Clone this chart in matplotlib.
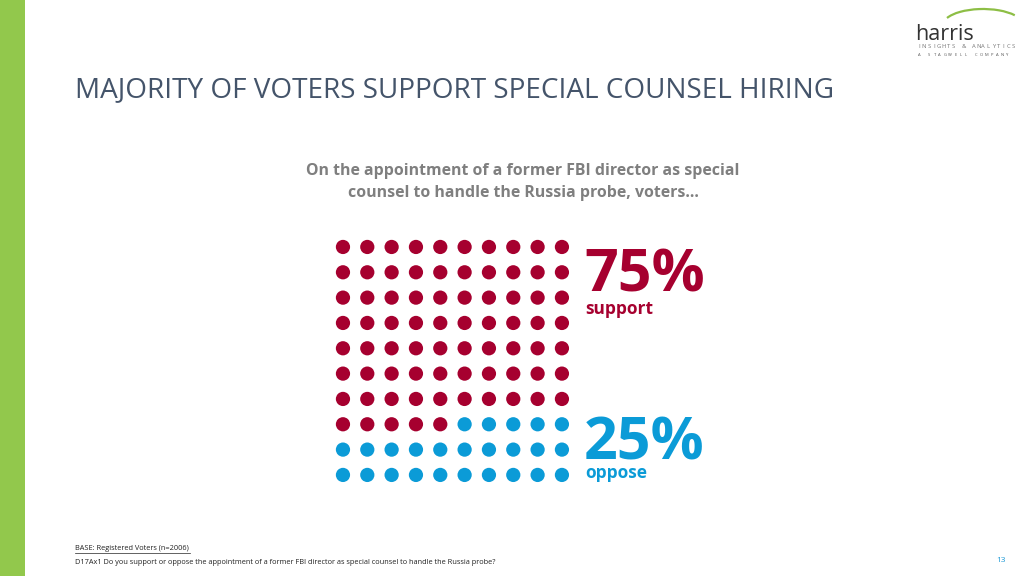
import numpy as np
import matplotlib.pyplot as plt
from matplotlib.patches import Rectangle, Arc

# data
support_pct = 75
oppose_pct = 25
labels = ["support", "oppose"]
title = "MAJORITY OF VOTERS SUPPORT SPECIAL COUNSEL HIRING"
subtitle = "On the appointment of a former FBI director as special\ncounsel to handle the Russia probe, voters\u2026"
base_note = "BASE: Registered Voters (n=2006)"
question = ("D17Ax1 Do you support or oppose the appointment of a former FBI director "
            "as special counsel to handle the Russia probe?")
page_no = "13"
logo_name = "harris"
logo_line1 = "INSIGHTS & ANALYTICS"
logo_line2 = "A STAGWELL COMPANY"

red = "#A6002F"
blue = "#0B9BD7"
green = "#92C84C"

fig = plt.figure(figsize=(10.24, 5.76), dpi=100)
fig.patch.set_facecolor("white")

# background axes in pixel coordinates
bg = fig.add_axes([0, 0, 1, 1])
bg.set_xlim(0, 1024)
bg.set_ylim(576, 0)
bg.axis("off")

bg.add_patch(Rectangle((0, 0), 25, 576, color=green, lw=0))

bg.text(75, 97, title, fontsize=20.1, family="Open Sans", color="#44546A",
        va="baseline", ha="left")
bg.text(523, 182, subtitle, fontsize=11.4, family="Open Sans", weight="bold",
        color="#7F7F7F", va="center", ha="center", linespacing=1.55)

# big numbers
bg.text(584, 292, f"{support_pct}%", fontsize=42.5, family="Open Sans", weight="bold",
        color=red, va="baseline", ha="left")
bg.text(585, 314, labels[0], fontsize=12.5, family="Open Sans", weight="bold",
        color=red, va="baseline", ha="left")
bg.text(584, 459, f"{oppose_pct}%", fontsize=42.5, family="Open Sans", weight="bold",
        color=blue, va="baseline", ha="left")
bg.text(585, 478, labels[1], fontsize=12.5, family="Open Sans", weight="bold",
        color=blue, va="baseline", ha="left")

# footer
bg.text(75, 549, base_note, fontsize=5.3, family="Open Sans", color="#222222",
        va="center", ha="left")
bg.plot([75, 190], [553, 553], color="#222222", lw=0.5)
bg.text(75, 562, question, fontsize=5.3, family="Open Sans", color="#222222",
        va="center", ha="left")
bg.text(1001, 560, page_no, fontsize=6, family="Open Sans", color="#1F9BD7",
        va="center", ha="center")

# logo
bg.text(915, 40, logo_name, fontsize=15.5, family="Open Sans", color="#333333",
        va="baseline", ha="left")
for i, ch in enumerate(logo_line1):
    bg.text(919 + i * 4.95, 47, ch, fontsize=4.2, family="Open Sans",
            color="#777777", va="center", ha="center")
for i, ch in enumerate(logo_line2):
    bg.text(919 + i * 5.2, 55, ch, fontsize=3.0, family="Open Sans",
            color="#555555", va="center", ha="center")
bg.add_patch(Arc((983, 25), 80, 32, theta1=191, theta2=343, color="#8DBE45", lw=1.6))

# dot grid
ax = fig.add_axes([330.8 / 1024, (576 - 487.6) / 576, 243.3 / 1024, 253.3 / 576])
ax.set_xlim(-0.5, 9.5)
ax.set_ylim(9.5, -0.5)
ax.axis("off")

idx = np.arange(100)
cols = idx % 10
rows = idx // 10
colors = [red if i < support_pct else blue for i in idx]
ax.scatter(cols, rows, s=105, c=colors, edgecolors="none")

fig.savefig("out.png", dpi=100, facecolor="white")
